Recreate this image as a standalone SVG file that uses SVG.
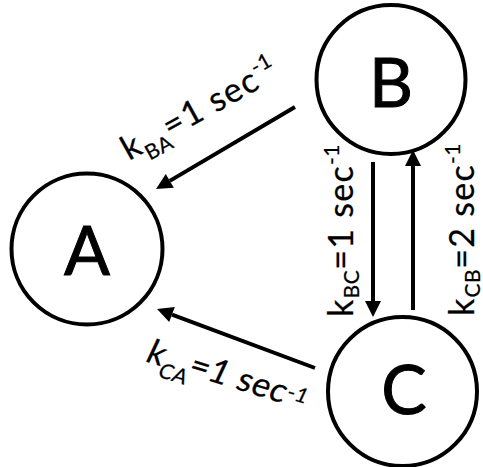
<svg xmlns="http://www.w3.org/2000/svg" width="483" height="467" viewBox="0 0 483 467">
  <style>
    .state circle { fill: #fff; stroke: #000; stroke-width: 4; }
    .state text { font-family: Lato, "Open Sans", sans-serif; font-size: 68px; text-anchor: middle; fill: #000; stroke: #000; stroke-width: 1; }
    .edge { stroke: #000; stroke-width: 4; fill: none; marker-end: url(#head); }
    .rate { font-family: Lato, "Open Sans", sans-serif; font-size: 34px; letter-spacing: 1.3px; fill: #000; stroke: #000; stroke-width: 0.25; }
    .small { font-size: 21px; letter-spacing: 0.5px; }
    .tight { letter-spacing: 0.6px; }
  </style>
  <defs>
    <marker id="head" markerUnits="userSpaceOnUse" markerWidth="16" markerHeight="16" refX="0" refY="8" orient="auto" overflow="visible">
      <path d="M0,0 L16,8 L0,16 z" fill="#000"/>
    </marker>
  </defs>

  <rect width="483" height="467" fill="#fff"/>

  <!-- transitions with their rate constants -->
  <g id="connectors">
    <line class="edge" x1="295" y1="107" x2="169.8" y2="180.9"/>
    <line class="edge" x1="373" y1="162" x2="373" y2="301"/>
    <line class="edge" x1="413" y1="310" x2="413" y2="166"/>
    <line class="edge" x1="315" y1="368" x2="172" y2="314.6"/>

    <text class="rate" transform="translate(129,161) rotate(-29)">k<tspan class="small" dy="10">BA</tspan><tspan dy="-10">=1 sec</tspan><tspan class="small" dy="-14">-1</tspan></text>
    <text class="rate" transform="translate(353,317) rotate(-90)">k<tspan class="small" dy="6">BC</tspan><tspan dy="-6">=1 sec</tspan><tspan class="small" dy="-14">-1</tspan></text>
    <text class="rate" transform="translate(474,316) rotate(-90)">k<tspan class="small" dy="6">CB</tspan><tspan dy="-6">=2 sec</tspan><tspan class="small" dy="-14">-1</tspan></text>
    <text class="rate tight" transform="translate(144,361) rotate(17) skewX(-8)">k<tspan class="small" dy="11" letter-spacing="0">CA</tspan><tspan dx="-3" dy="-11">=1 sec</tspan><tspan class="small" dy="-6">-1</tspan></text>
  </g>

  <g id="A" class="state">
    <circle cx="87" cy="249" r="75.5"/>
    <text x="87" y="275">A</text>
  </g>
  <g id="B" class="state">
    <circle cx="391" cy="79.5" r="74.5"/>
    <text x="391" y="107">B</text>
  </g>
  <g id="C" class="state">
    <circle cx="402.5" cy="391.5" r="74.5"/>
    <text x="404" y="414">C</text>
  </g>
</svg>
